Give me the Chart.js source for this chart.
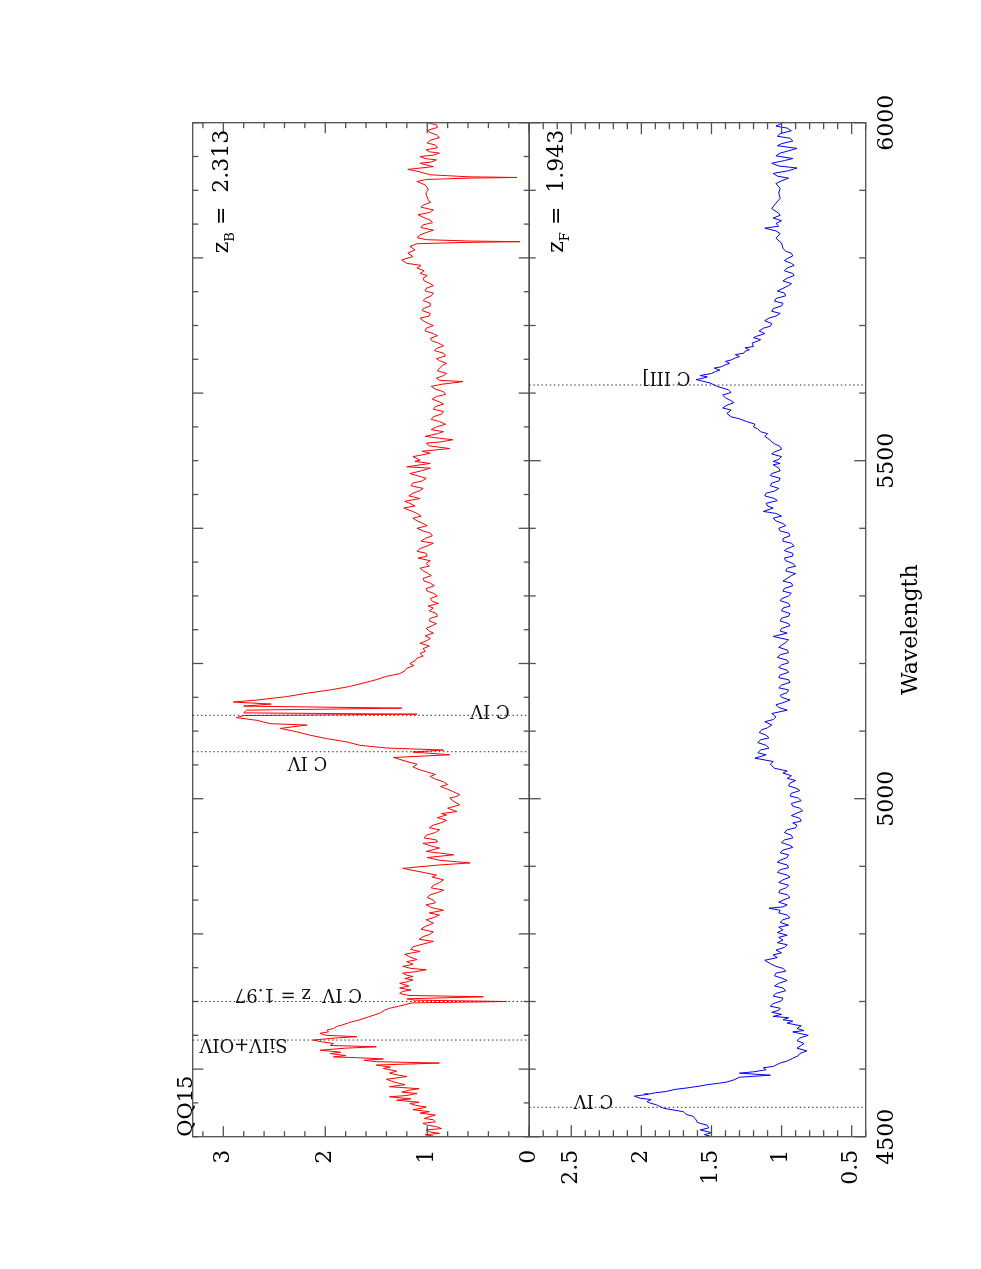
<!DOCTYPE html>
<html>
<head>
<meta charset="utf-8">
<title>QQ15 spectra</title>
<script src="https://cdn.jsdelivr.net/npm/chart.js@4.4.0/dist/chart.umd.min.js"></script>
<style>
  html, body { margin: 0; padding: 0; background: #fff; overflow: hidden; }
  /* the plot is drawn landscape and turned a quarter turn, like the printed page */
  #page {
    position: absolute; left: 0; top: 0;
    width: 1269px; height: 981px;
    transform-origin: 0 0;
    transform: translate(0, 1269px) rotate(-90deg);
  }
</style>
</head>
<body>
<div id="page"><canvas id="spec" width="1269" height="981"></canvas></div>
<script>
// Spectra: [wavelength, flux]
const redSpectrum = [
  [4501,0.94],[4503,1.02],[4505,0.88],[4507,0.97],[4510,1.01],[4512,0.86],[4515,0.91],[4517,1.00],
  [4520,1.04],[4522,0.92],[4525,0.94],[4527,1.03],[4530,0.97],[4532,0.92],[4535,1.07],[4537,0.98],
  [4540,1.14],[4542,1.06],[4544,1.01],[4546,1.10],[4549,1.17],[4551,1.08],[4554,1.30],[4556,1.16],
  [4559,1.37],[4561,1.20],[4564,1.10],[4566,1.25],[4569,1.17],[4571,1.08],[4574,1.37],[4577,1.22],
  [4581,1.33],[4585,1.40],[4589,1.20],[4591,1.28],[4594,1.37],[4597,1.30],[4601,1.43],[4603,1.36],
  [4606,1.50],[4609,0.88],[4611,1.50],[4613,1.62],[4615,1.43],[4617,1.70],[4618,1.92],[4620,1.80],
  [4623,1.95],[4625,1.85],[4628,2.05],[4631,1.80],[4633,1.50],[4635,1.95],[4638,1.92],[4640,2.02],
  [4643,2.12],[4646,1.90],[4648,1.69],[4650,1.99],[4653,2.05],[4655,1.97],[4658,1.98],[4660,1.92],
  [4663,1.89],[4665,1.84],[4668,1.78],[4670,1.74],[4673,1.66],[4675,1.62],[4678,1.56],[4680,1.52],
  [4683,1.46],[4687,1.42],[4690,1.37],[4693,1.28],[4696,1.20],[4698,1.15],[4700,0.22],[4702,1.12],
  [4704,1.20],[4707,0.45],[4709,1.18],[4712,1.27],[4715,1.24],[4717,1.16],[4720,1.27],[4723,1.18],
  [4727,1.27],[4729,1.20],[4732,1.14],[4734,1.22],[4737,1.14],[4739,1.20],[4742,1.24],[4744,1.12],
  [4747,1.01],[4749,1.16],[4752,1.24],[4755,1.14],[4759,1.20],[4762,1.10],[4766,1.17],[4770,1.22],
  [4774,1.07],[4777,1.16],[4781,1.14],[4785,1.04],[4789,0.94],[4792,1.08],[4796,1.04],[4799,0.98],
  [4803,0.94],[4807,1.06],[4811,1.02],[4816,0.94],[4821,1.01],[4824,0.94],[4828,0.88],[4831,0.98],
  [4835,0.84],[4839,0.96],[4843,1.01],[4846,0.92],[4850,0.94],[4854,1.00],[4858,0.97],[4861,0.90],
  [4865,0.84],[4868,0.96],[4872,0.94],[4876,0.88],[4880,0.84],[4884,0.95],[4887,0.91],[4892,1.07],
  [4897,1.24],[4902,0.88],[4905,0.58],[4909,0.88],[4913,1.00],[4917,0.74],[4922,1.01],[4927,0.88],
  [4930,0.96],[4934,1.04],[4936,0.90],[4939,0.91],[4942,1.03],[4946,1.01],[4950,0.92],[4954,0.88],
  [4957,0.98],[4961,0.94],[4964,0.87],[4968,0.81],[4972,0.90],[4976,0.81],[4978,0.86],[4981,0.71],
  [4986,0.80],[4991,0.68],[4996,0.74],[5001,0.78],[5003,0.72],[5006,0.68],[5010,0.74],[5014,0.80],
  [5018,0.87],[5021,0.80],[5025,0.84],[5029,0.92],[5033,0.97],[5036,0.92],[5040,1.01],[5043,1.08],
  [5047,1.14],[5051,1.10],[5055,1.20],[5061,1.33],[5065,0.78],[5069,1.14],[5072,0.84],[5075,1.40],
  [5079,1.66],[5084,1.79],[5089,1.99],[5094,2.15],[5099,2.28],[5104,2.44],[5109,2.18],[5111,2.54],
  [5116,2.67],[5120,2.87],[5123,2.80],[5125,1.10],[5127,2.80],[5131,2.77],[5134,1.25],[5137,2.80],
  [5140,2.53],[5143,2.90],[5146,2.67],[5151,2.38],[5156,2.18],[5161,1.95],[5166,1.76],[5171,1.63],
  [5176,1.50],[5181,1.40],[5185,1.27],[5189,1.22],[5193,1.20],[5197,1.13],[5200,1.17],[5204,1.12],
  [5208,1.10],[5211,1.04],[5215,1.07],[5218,1.02],[5222,1.04],[5226,0.98],[5230,1.07],[5234,1.00],
  [5237,0.97],[5241,1.02],[5245,0.94],[5248,0.98],[5252,1.01],[5256,0.95],[5259,0.91],[5263,0.98],
  [5267,0.97],[5270,0.90],[5274,0.91],[5278,0.98],[5282,0.94],[5285,0.99],[5289,0.89],[5292,0.95],
  [5296,0.97],[5300,0.90],[5304,0.94],[5307,1.00],[5311,1.01],[5315,0.93],[5319,0.97],[5322,1.03],
  [5326,1.04],[5330,0.96],[5333,0.99],[5337,1.04],[5341,1.07],[5344,0.98],[5348,1.01],[5352,0.97],
  [5356,1.09],[5359,1.00],[5363,1.01],[5366,1.10],[5370,1.07],[5374,1.00],[5378,0.94],[5381,1.06],
  [5385,1.02],[5389,0.95],[5393,0.97],[5396,1.04],[5400,1.10],[5404,1.00],[5407,1.04],[5411,1.10],
  [5415,1.14],[5418,1.06],[5422,1.10],[5426,1.16],[5430,1.23],[5433,1.12],[5437,1.17],[5440,1.22],
  [5444,1.07],[5448,1.18],[5452,1.14],[5455,1.08],[5459,1.04],[5463,1.16],[5467,1.14],[5470,1.05],
  [5474,1.01],[5478,1.10],[5481,1.17],[5485,1.06],[5489,0.97],[5491,1.20],[5496,0.97],[5499,1.12],
  [5501,1.07],[5506,1.14],[5511,0.97],[5514,1.05],[5518,0.78],[5522,0.98],[5526,1.01],[5528,0.86],
  [5531,0.75],[5534,0.92],[5536,1.02],[5540,0.90],[5543,0.84],[5546,0.96],[5550,0.91],[5554,0.82],
  [5558,0.88],[5561,0.96],[5565,0.94],[5569,0.86],[5573,0.84],[5576,0.94],[5580,0.92],[5584,0.84],
  [5587,0.88],[5591,0.95],[5595,0.91],[5598,0.82],[5602,0.84],[5606,0.92],[5610,0.96],[5613,0.86],
  [5617,0.65],[5619,0.88],[5622,0.91],[5626,0.84],[5629,0.81],[5633,0.90],[5637,0.88],[5641,0.85],
  [5644,0.81],[5648,0.88],[5651,0.91],[5655,0.82],[5659,0.84],[5663,0.93],[5666,0.91],[5670,0.84],
  [5674,0.89],[5677,0.95],[5681,0.97],[5685,0.90],[5688,0.94],[5692,1.02],[5696,1.01],[5700,0.94],
  [5703,0.99],[5707,1.04],[5711,1.07],[5714,0.98],[5718,0.97],[5722,1.05],[5725,1.04],[5729,0.97],
  [5733,0.97],[5737,1.04],[5740,1.02],[5744,0.96],[5748,0.94],[5751,1.02],[5755,1.01],[5759,0.94],
  [5762,0.97],[5766,1.03],[5770,1.04],[5774,1.00],[5777,1.07],[5781,1.03],[5785,1.10],[5789,1.06],
  [5792,1.20],[5797,1.25],[5802,1.14],[5807,1.19],[5812,1.12],[5817,1.17],[5821,1.10],[5823,0.60],
  [5824,0.09],[5825,0.60],[5827,1.01],[5830,1.10],[5834,1.07],[5838,1.00],[5841,0.94],[5845,1.06],
  [5849,1.04],[5852,0.95],[5856,0.97],[5860,1.04],[5864,1.09],[5867,0.98],[5871,0.94],[5875,1.06],
  [5878,1.04],[5882,0.97],[5886,0.99],[5890,1.00],[5893,1.01],[5897,1.01],[5900,0.99],[5904,1.00],
  [5908,1.02],[5913,1.10],[5916,1.01],[5918,0.60],[5919,0.12],[5920,0.60],[5923,0.97],[5928,1.09],
  [5931,1.19],[5935,0.94],[5940,1.07],[5942,0.96],[5945,0.91],[5947,1.02],[5950,1.07],[5952,0.94],
  [5955,0.88],[5957,0.98],[5960,1.01],[5963,0.90],[5967,0.92],[5970,1.00],[5974,0.97],[5978,0.88],
  [5982,0.91],[5986,0.98],[5989,0.99],[5993,0.90],[5997,0.91],[6000,1.00]
];

const blueSpectrum = [
  [4501,1.51],[4503,1.55],[4506,1.50],[4510,1.58],[4513,1.52],[4517,1.53],[4521,1.60],[4525,1.61],
  [4530,1.63],[4533,1.68],[4537,1.70],[4542,1.84],[4547,1.89],[4550,1.94],[4552,1.96],[4555,1.93],
  [4557,2.01],[4560,2.05],[4562,1.98],[4563,1.95],[4565,1.90],[4567,1.82],[4570,1.76],[4572,1.68],
  [4575,1.58],[4577,1.53],[4579,1.45],[4581,1.39],[4584,1.34],[4588,1.30],[4591,1.08],[4594,1.30],
  [4596,1.20],[4599,1.11],[4602,1.13],[4604,1.06],[4606,1.04],[4609,1.01],[4612,0.96],[4616,0.92],
  [4620,0.88],[4623,0.87],[4627,0.82],[4631,0.89],[4635,0.86],[4638,0.84],[4642,0.89],[4646,0.87],
  [4650,0.81],[4655,0.92],[4657,0.84],[4660,0.89],[4664,0.86],[4668,0.96],[4671,0.92],[4673,0.99],
  [4676,0.95],[4678,1.06],[4681,1.00],[4684,1.07],[4687,1.02],[4690,1.01],[4693,1.08],[4697,1.06],
  [4701,1.00],[4705,0.99],[4708,1.06],[4712,1.04],[4716,0.97],[4720,0.99],[4723,1.05],[4727,1.02],
  [4731,0.96],[4734,0.99],[4738,1.05],[4742,1.04],[4745,0.97],[4749,0.99],[4752,1.04],[4756,1.08],
  [4761,1.12],[4765,1.03],[4769,1.06],[4772,1.00],[4776,1.04],[4780,0.98],[4784,0.96],[4787,1.03],
  [4791,0.99],[4795,1.02],[4798,0.96],[4802,1.03],[4806,0.99],[4810,1.02],[4813,0.95],[4817,1.01],
  [4821,0.99],[4824,0.94],[4828,0.96],[4831,1.02],[4835,1.01],[4838,1.09],[4840,0.99],[4843,0.96],
  [4847,1.02],[4850,0.99],[4854,0.94],[4858,0.96],[4861,1.02],[4865,1.01],[4868,0.97],[4872,0.95],
  [4876,1.02],[4880,0.99],[4884,0.94],[4887,0.96],[4891,1.03],[4895,1.01],[4898,0.95],[4902,0.96],
  [4906,1.03],[4909,1.01],[4913,0.96],[4917,0.95],[4920,1.01],[4924,0.99],[4928,0.92],[4931,0.94],
  [4935,1.00],[4939,0.98],[4942,0.92],[4946,0.93],[4950,0.98],[4954,0.96],[4957,0.90],[4961,0.89],
  [4964,0.92],[4967,0.86],[4971,0.87],[4975,0.93],[4978,0.90],[4982,0.85],[4986,0.87],[4989,0.92],
  [4993,0.93],[4997,0.86],[5001,0.88],[5004,0.94],[5008,0.93],[5012,0.87],[5015,0.89],[5019,0.95],
  [5023,0.94],[5027,0.90],[5030,0.96],[5034,0.93],[5038,0.99],[5041,0.96],[5045,1.05],[5051,1.08],
  [5055,1.06],[5060,1.19],[5065,1.11],[5068,1.17],[5072,1.15],[5075,1.09],[5079,1.11],[5083,1.17],
  [5087,1.15],[5090,1.09],[5094,1.11],[5098,1.16],[5102,1.14],[5105,1.10],[5109,1.07],[5114,1.12],
  [5117,1.06],[5121,1.04],[5126,1.07],[5131,0.96],[5135,1.02],[5139,1.04],[5142,0.99],[5146,0.94],
  [5150,1.00],[5153,1.01],[5157,0.96],[5161,0.95],[5164,1.02],[5168,1.00],[5172,0.94],[5176,0.95],
  [5179,1.02],[5183,1.01],[5187,0.95],[5190,0.96],[5194,1.02],[5198,1.00],[5201,0.95],[5205,0.96],
  [5209,1.03],[5213,1.01],[5216,0.95],[5220,0.96],[5224,1.02],[5227,1.00],[5231,0.97],[5235,0.95],
  [5240,1.06],[5245,0.96],[5248,1.01],[5252,1.00],[5256,0.94],[5259,0.95],[5263,1.01],[5267,1.00],
  [5270,0.95],[5274,0.94],[5278,1.00],[5282,0.99],[5285,0.94],[5289,0.95],[5293,1.01],[5296,1.00],
  [5300,0.95],[5304,0.93],[5307,0.99],[5311,0.98],[5315,0.92],[5319,0.93],[5322,0.99],[5326,0.96],
  [5330,0.93],[5333,0.90],[5337,0.97],[5341,0.96],[5344,0.90],[5348,0.92],[5352,0.97],[5356,0.98],
  [5359,0.92],[5363,0.92],[5367,0.98],[5370,0.96],[5374,0.91],[5378,0.93],[5381,0.99],[5385,0.99],
  [5389,0.94],[5393,0.95],[5396,1.01],[5400,1.02],[5404,0.97],[5407,0.99],[5411,1.04],[5415,1.06],
  [5418,1.00],[5422,1.04],[5425,1.13],[5430,1.06],[5433,1.10],[5437,1.11],[5441,1.03],[5444,1.05],
  [5448,1.12],[5452,1.11],[5455,1.05],[5459,1.02],[5463,1.08],[5467,1.07],[5470,1.02],[5474,1.01],
  [5478,1.08],[5481,1.07],[5485,1.01],[5489,1.02],[5494,1.06],[5496,1.01],[5499,1.06],[5502,1.02],
  [5506,1.00],[5510,1.07],[5513,1.05],[5517,1.00],[5521,1.01],[5525,1.05],[5528,1.07],[5532,1.09],
  [5536,1.12],[5540,1.10],[5543,1.15],[5547,1.17],[5550,1.20],[5554,1.19],[5558,1.25],[5562,1.30],
  [5565,1.36],[5570,1.39],[5575,1.36],[5578,1.42],[5582,1.39],[5586,1.34],[5590,1.37],[5593,1.40],
  [5597,1.42],[5601,1.36],[5605,1.38],[5610,1.46],[5615,1.51],[5618,1.57],[5620,1.61],[5622,1.56],
  [5624,1.53],[5626,1.58],[5629,1.50],[5632,1.47],[5634,1.44],[5637,1.48],[5639,1.43],[5642,1.40],
  [5644,1.37],[5647,1.40],[5649,1.36],[5652,1.33],[5654,1.30],[5657,1.33],[5659,1.27],[5662,1.26],
  [5664,1.23],[5667,1.26],[5669,1.20],[5674,1.21],[5677,1.17],[5679,1.15],[5682,1.20],[5684,1.18],
  [5688,1.12],[5692,1.16],[5696,1.13],[5699,1.08],[5703,1.07],[5707,1.12],[5711,1.09],[5714,1.04],
  [5718,1.01],[5721,1.07],[5725,1.06],[5729,1.00],[5733,0.99],[5736,1.05],[5740,1.04],[5744,0.97],
  [5748,0.98],[5751,1.03],[5755,0.99],[5759,0.95],[5762,0.93],[5766,0.99],[5770,0.96],[5774,0.91],
  [5777,0.92],[5781,0.98],[5785,0.96],[5789,0.91],[5792,0.93],[5796,0.98],[5799,0.96],[5803,0.92],
  [5807,0.93],[5810,0.97],[5814,0.99],[5822,1.00],[5829,1.04],[5836,1.01],[5840,1.04],[5844,1.12],
  [5847,1.02],[5851,1.04],[5855,1.00],[5859,1.06],[5863,1.01],[5866,1.02],[5873,1.07],[5881,1.04],
  [5888,1.01],[5896,1.02],[5903,1.01],[5910,1.04],[5914,1.00],[5918,0.95],[5921,1.03],[5925,1.06],
  [5929,0.95],[5933,0.89],[5936,1.02],[5940,1.07],[5944,0.98],[5947,0.92],[5951,1.04],[5955,1.01],
  [5959,0.94],[5962,0.89],[5966,1.03],[5969,1.00],[5973,0.92],[5977,0.94],[5980,1.03],[5984,1.01],
  [5988,0.93],[5992,0.96],[5995,1.04],[5999,1.00]
];

// Axis ticks
const waveTicks = [4500, 5000, 5500, 6000];
const redFluxTicks = [0, 1, 2, 3];
const blueFluxTicks = [0.5, 1, 1.5, 2, 2.5];

// Marked lines
const markWaves  = [4543.5, 4643, 4700, 5069.5, 5123.4, 5612];
const markLabels = ['C IV', 'SiIV+OIV', 'C IV  z = 1.97', 'C IV', 'C IV', 'C III]'];
const markPanels = ['blue', 'red', 'red', 'red', 'red', 'blue'];

const FONT = '"DejaVu Serif", "Liberation Serif", serif';

function toXY(list) {
  return list.map(p => ({ x: p[0], y: p[1] }));
}

function steps(min, max, step) {
  const out = [];
  for (let k = Math.ceil(min / step - 1e-9); k * step <= max + 1e-9; k++) out.push(k * step);
  return out;
}

function isMultiple(v, step) {
  const r = v / step;
  return Math.abs(r - Math.round(r)) < 1e-6;
}

function seg(ctx, x1, y1, x2, y2) {
  ctx.beginPath();
  ctx.moveTo(x1, y1);
  ctx.lineTo(x2, y2);
  ctx.stroke();
}

function drawRedshift(ctx, right, base, sub, value) {
  const big = '22px ' + FONT, small = '13px ' + FONT;
  ctx.font = big;
  const wz = ctx.measureText('z').width;
  const weq = ctx.measureText('=').width;
  const wv = ctx.measureText(value).width;
  ctx.font = small;
  const ws = ctx.measureText(sub).width;
  const gap1 = 7, gap2 = 14;
  let xx = right - (wz + ws + gap1 + weq + gap2 + wv);
  ctx.textAlign = 'left';
  ctx.font = big;
  ctx.fillText('z', xx, base); xx += wz;
  ctx.font = small;
  ctx.fillText(sub, xx, base + 6); xx += ws + gap1;
  ctx.font = big;
  ctx.fillText('=', xx, base); xx += weq + gap2;
  ctx.fillText(value, xx, base);
}

// Frame, inward ticks, line marks and the text inside the panels
const framePlugin = {
  id: 'frame',
  afterDatasetsDraw(chart) {
    const ctx = chart.ctx;
    const x = chart.scales.x;
    const yRed = chart.scales.yRed, yBlue = chart.scales.yBlue;
    // red panel: wavelength ticks every 50 (long every 200); blue: every 100 (long every 500)
    const panels = [
      { s: yRed, minor: 0.2, major: 1, wMinor: 50, wMajor: 200, short: 5.5, long: 10.5 },
      { s: yBlue, minor: 0.1, major: 0.5, wMinor: 100, wMajor: 500, short: 6.5, long: 11.5 }
    ];
    const l = x.left, r = x.right;

    ctx.save();
    ctx.strokeStyle = '#505050';
    ctx.lineWidth = 1.3;
    panels.forEach(p => {
      const t = p.s.top, b = p.s.bottom;
      ctx.strokeRect(l, t, r - l, b - t);
      steps(x.min, x.max, p.wMinor).forEach(w => {
        const px = x.getPixelForValue(w);
        const len = isMultiple(w, p.wMajor) ? p.long : p.short;
        seg(ctx, px, t, px, t + len);
        seg(ctx, px, b, px, b - len);
      });
      steps(p.s.min, p.s.max, p.minor).forEach(v => {
        const py = p.s.getPixelForValue(v);
        const len = isMultiple(v, p.major) ? p.long : p.short;
        seg(ctx, l, py, l + len, py);
        seg(ctx, r, py, r - len, py);
      });
    });

    // dotted line marks, text running up beside the line
    const markOffsets = [
      { flux: 2.20, off: 12.3 },
      { flux: 2.37, off: 1 },
      { flux: 1.64, off: 12.7 },
      { flux: 1.98, off: -5.3 },
      { flux: 0.19, off: 10 },
      { flux: 1.65, off: 13 }
    ];
    ctx.strokeStyle = '#333';
    ctx.lineWidth = 1;
    ctx.fillStyle = '#111';
    ctx.font = '18px ' + FONT;
    markWaves.forEach((w, i) => {
      const ys = markPanels[i] === 'red' ? yRed : yBlue;
      const px = x.getPixelForValue(w);
      ctx.setLineDash([1.5, 2.6]);
      seg(ctx, px, ys.top, px, ys.bottom);
      ctx.setLineDash([]);
      const o = markOffsets[i];
      ctx.save();
      ctx.translate(px + o.off, ys.getPixelForValue(o.flux));
      ctx.rotate(-Math.PI / 2);
      ctx.textAlign = 'left';
      ctx.textBaseline = 'alphabetic';
      ctx.fillText(markLabels[i], 0, 0);
      ctx.restore();
    });

    // object name above the frame
    ctx.fillStyle = '#000';
    ctx.font = '21px ' + FONT;
    ctx.textAlign = 'left';
    ctx.textBaseline = 'alphabetic';
    ctx.fillText('QQ15', l, yRed.top - 1);

    // redshifts, right-aligned near the top of each panel
    drawRedshift(ctx, r - 7, yRed.top + 35, 'B', '2.313');
    drawRedshift(ctx, r - 7, yBlue.top + 34, 'F', '1.943');
    ctx.restore();
  }
};

const tickFont = { family: FONT, size: 22 };

new Chart(document.getElementById('spec'), {
  type: 'line',
  data: {
    datasets: [
      {
        data: toXY(redSpectrum), xAxisID: 'x', yAxisID: 'yRed',
        borderColor: '#ff0000', borderWidth: 1, pointRadius: 0, tension: 0
      },
      {
        data: toXY(blueSpectrum), xAxisID: 'x', yAxisID: 'yBlue',
        borderColor: '#0000ff', borderWidth: 1, pointRadius: 0, tension: 0
      }
    ]
  },
  options: {
    responsive: false,
    animation: false,
    devicePixelRatio: 1,
    layout: { padding: { left: 0, right: 122.7, top: 192.7, bottom: 0 } },
    plugins: { legend: { display: false }, tooltip: { enabled: false } },
    scales: {
      x: {
        type: 'linear', position: 'bottom', min: 4500, max: 6000,
        grid: { display: false, drawTicks: false },
        border: { display: false },
        afterBuildTicks: s => { s.ticks = waveTicks.map(v => ({ value: v })); },
        afterFit: s => { s.height = 115.3; },
        ticks: { color: '#000', font: tickFont, padding: 8, maxRotation: 0, callback: v => String(v) },
        title: { display: true, text: 'Wavelength', color: '#000', font: tickFont, padding: { top: 0, bottom: 57 } }
      },
      // left-hand stacked axes are placed last-defined first, so blue is listed before red
      yBlue: {
        type: 'linear', position: 'left', stack: 'flux', stackWeight: 1, min: 0.4, max: 2.8,
        grid: { display: false, drawTicks: false },
        border: { display: false },
        afterBuildTicks: s => { s.ticks = blueFluxTicks.map(v => ({ value: v })); },
        afterFit: s => { s.width = 132.3; },
        ticks: { color: '#000', font: tickFont, padding: 13, callback: v => String(v) }
      },
      yRed: {
        type: 'linear', position: 'left', stack: 'flux', stackWeight: 1, min: 0, max: 3.3,
        grid: { display: false, drawTicks: false },
        border: { display: false },
        afterBuildTicks: s => { s.ticks = redFluxTicks.map(v => ({ value: v })); },
        afterFit: s => { s.width = 132.3; },
        ticks: { color: '#000', font: tickFont, padding: 13, callback: v => String(v) }
      }
    }
  },
  plugins: [framePlugin]
});
</script>
</body>
</html>
